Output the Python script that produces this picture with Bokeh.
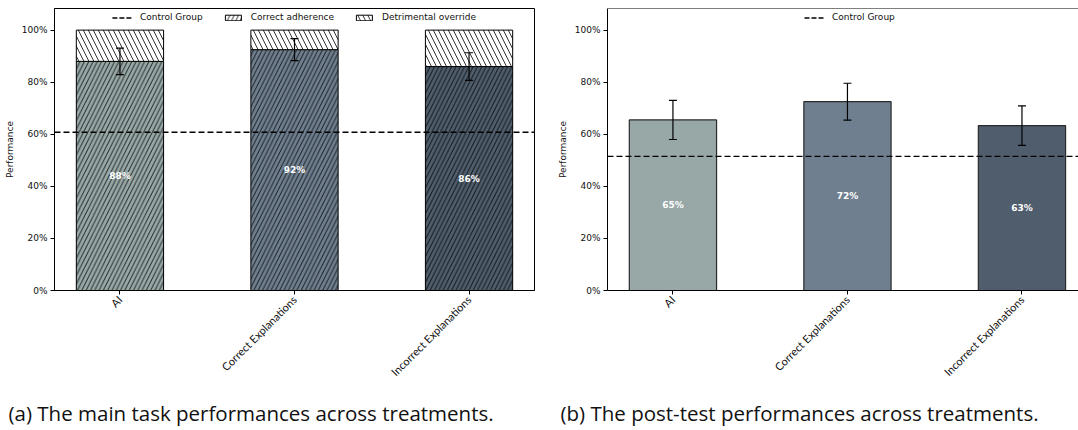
import math
from bokeh.plotting import figure
from bokeh.models import (ColumnDataSource, Span, Whisker, TeeHead, Legend, LegendItem,
                          FixedTicker, NumeralTickFormatter, Title, Range1d)
from bokeh.layouts import row
from bokeh.transform import stack
from bokeh.embed import file_html
from bokeh.resources import INLINE
from bokeh.core.properties import value

# ---------------- data ----------------
categories = ["AI", "Correct Explanations", "Incorrect Explanations"]
xpos = [0, 1, 2]
bar_colors = ["#97a8a6", "#6f7f8f", "#4f5d6c"]
y_ticks = [0.0, 0.2, 0.4, 0.6, 0.8, 1.0]

main_correct = [0.88, 0.925, 0.86]
main_override = [0.12, 0.075, 0.14]
main_err = [0.051, 0.042, 0.053]
main_labels = ["88%", "92%", "86%"]
main_control = 0.608

post_perf = [0.655, 0.725, 0.633]
post_err = [0.075, 0.071, 0.076]
post_labels = ["65%", "72%", "63%"]
post_control = 0.515

caption_a = "(a) The main task performances across treatments."
caption_b = "(b) The post-test performances across treatments."

TICK_FONT = "DejaVu Sans"
CAT_FONT = "Lato"
CAPTION_FONT = "Open Sans"
HATCH_A = 8.6
HATCH_B = 10.0


def base_fig(frame_width, x_end, min_left, min_right):
    p = figure(frame_width=frame_width, frame_height=282,
               x_range=Range1d(-0.375, x_end), y_range=Range1d(0, 1.083),
               output_backend="svg", toolbar_location=None,
               min_border_left=min_left, min_border_right=min_right,
               min_border_top=8, min_border_bottom=0)
    p.background_fill_color = "white"
    p.border_fill_color = "white"
    p.xgrid.visible = False
    p.ygrid.visible = False
    p.outline_line_color = "black"
    p.outline_line_width = 1

    p.xaxis.ticker = FixedTicker(ticks=xpos)
    p.xaxis.major_label_overrides = {x: c for x, c in zip(xpos, categories)}
    p.xaxis.major_label_orientation = math.pi / 4
    p.xaxis.major_label_text_font = CAT_FONT
    p.xaxis.major_label_text_font_size = "11px"
    p.xaxis.major_label_text_color = "#111111"
    p.xaxis.major_label_standoff = 3

    p.yaxis.ticker = FixedTicker(ticks=y_ticks)
    p.yaxis.formatter = NumeralTickFormatter(format="0%")
    p.yaxis.major_label_text_font = TICK_FONT
    p.yaxis.major_label_text_font_size = "9px"
    p.yaxis.major_label_text_color = "#111111"
    p.yaxis.major_label_standoff = 3
    p.yaxis.axis_label = "Performance"
    p.yaxis.axis_label_text_font = TICK_FONT
    p.yaxis.axis_label_text_font_size = "9px"
    p.yaxis.axis_label_text_font_style = "normal"
    p.yaxis.axis_label_text_color = "#111111"
    p.yaxis.axis_label_standoff = 4

    for ax in (p.xaxis[0], p.yaxis[0]):
        ax.major_tick_out = 4
        ax.major_tick_in = 0
        ax.minor_tick_out = 0
        ax.minor_tick_in = 0
        ax.axis_line_color = "black"
        ax.major_tick_line_color = "black"
    return p


def add_caption(p, text, x_off):
    p.add_layout(Title(text=text, align="left", offset=x_off, text_font=CAPTION_FONT,
                       text_font_size="20.5px", text_font_style="normal",
                       text_color="#111111", standoff=23), "below")


def style_legend(leg):
    leg.border_line_color = None
    leg.background_fill_alpha = 0
    leg.label_text_font = TICK_FONT
    leg.label_text_font_size = "9px"
    leg.label_text_color = "#111111"
    leg.glyph_width = 20
    leg.glyph_height = 7
    leg.label_height = 10
    leg.label_standoff = 8
    leg.spacing = 20
    leg.padding = 0
    leg.margin = 4


# ---------------- left panel ----------------
p1 = base_fig(480, 2.375, 54, 19)
src1 = ColumnDataSource(dict(
    x=xpos, correct=main_correct, override=main_override, color=bar_colors,
    upper=[v + e for v, e in zip(main_correct, main_err)],
    lower=[v - e for v, e in zip(main_correct, main_err)],
    ly=[v / 2 for v in main_correct], lbl=main_labels))

p1.vbar(x="x", top="correct", bottom=0, width=0.5, source=src1,
        fill_color="color", line_color="black", line_width=1,
        hatch_pattern="/", hatch_color="black", hatch_scale=HATCH_A, hatch_weight=0.8)
p1.vbar(x="x", bottom=stack("correct"), top=stack("correct", "override"), width=0.5,
        source=src1, fill_color="white", line_color="black", line_width=1,
        hatch_pattern="\\", hatch_color="black", hatch_scale=HATCH_B, hatch_weight=0.8)
p1.text(x="x", y="ly", text="lbl", source=src1, text_color="white",
        text_font=value(TICK_FONT), text_font_style="bold", text_font_size="9px",
        text_align="center", text_baseline="middle")
p1.add_layout(Span(location=main_control, dimension="width", line_color="black",
                   line_width=1.4, line_dash="6 3"))
p1.add_layout(Whisker(base="x", upper="upper", lower="lower", source=src1,
                      line_color="black", line_width=1.2, level="overlay",
                      upper_head=TeeHead(size=8, line_color="black", line_width=1.2),
                      lower_head=TeeHead(size=8, line_color="black", line_width=1.2)))

# legend-only renderers, placed outside the visible x range
d_line = p1.line(x=[-10, -9], y=[0.5, 0.5], line_color="black", line_width=1.4,
                 line_dash="5 2")
d_adh = p1.vbar(x=[-10], top=[0.5], width=0.5, fill_color="white", line_color="black",
                line_width=1, hatch_pattern="/", hatch_color="black",
                hatch_scale=HATCH_A, hatch_weight=0.8)
d_over = p1.vbar(x=[-10], top=[0.5], width=0.5, fill_color="white", line_color="black",
                 line_width=1, hatch_pattern="\\", hatch_color="black",
                 hatch_scale=HATCH_B, hatch_weight=0.8)
leg1 = Legend(items=[LegendItem(label="Control Group", renderers=[d_line]),
                     LegendItem(label="Correct adherence", renderers=[d_adh]),
                     LegendItem(label="Detrimental override", renderers=[d_over])],
              location="top_center", orientation="horizontal")
style_legend(leg1)
p1.add_layout(leg1)
add_caption(p1, caption_a, -46)

# ---------------- right panel ----------------
p2 = base_fig(471, 2.324, 54, 0)
p2.outline_line_color = None
src2 = ColumnDataSource(dict(
    x=xpos, perf=post_perf, color=bar_colors,
    upper=[v + e for v, e in zip(post_perf, post_err)],
    lower=[v - e for v, e in zip(post_perf, post_err)],
    ly=[v / 2 for v in post_perf], lbl=post_labels))
p2.vbar(x="x", top="perf", bottom=0, width=0.5, source=src2,
        fill_color="color", line_color="#2a2a2a", line_width=1.2)
p2.text(x="x", y="ly", text="lbl", source=src2, text_color="white",
        text_font=value(TICK_FONT), text_font_style="bold", text_font_size="9px",
        text_align="center", text_baseline="middle")
p2.add_layout(Span(location=post_control, dimension="width", line_color="black",
                   line_width=1.4, line_dash="6 3"))
p2.add_layout(Span(location=1.083, dimension="width", line_color="black", line_width=1))
p2.add_layout(Whisker(base="x", upper="upper", lower="lower", source=src2,
                      line_color="black", line_width=1.2, level="overlay",
                      upper_head=TeeHead(size=8, line_color="black", line_width=1.2),
                      lower_head=TeeHead(size=8, line_color="black", line_width=1.2)))
d_line2 = p2.line(x=[-10, -9], y=[0.5, 0.5], line_color="black", line_width=1.4,
                  line_dash="5 2")
leg2 = Legend(items=[LegendItem(label="Control Group", renderers=[d_line2])],
              location=(197, 268), orientation="horizontal")
style_legend(leg2)
p2.add_layout(leg2)
add_caption(p2, caption_b, -47)

layout = row(p1, p2)
open("out.html", "w").write(file_html(layout, INLINE))
